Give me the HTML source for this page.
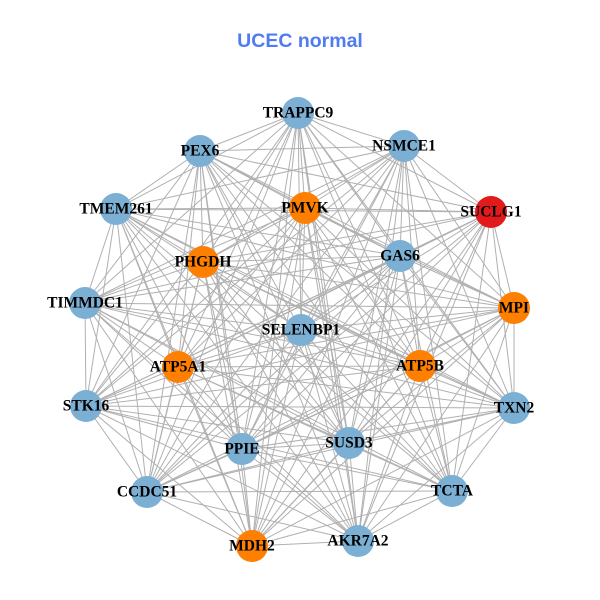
<!DOCTYPE html>
<html><head><meta charset="utf-8"><style>
html,body{margin:0;padding:0;background:#fff;width:600px;height:600px;overflow:hidden}
svg text{font-family:"Liberation Serif",serif;font-weight:bold;font-size:15.5px;text-anchor:middle;dominant-baseline:central;fill:#000}
</style></head><body>
<svg id="s" width="600" height="600" xmlns="http://www.w3.org/2000/svg">
<text x="300" y="41" style="font-family:'Liberation Sans',sans-serif;font-size:19.5px;fill:#4f7cf0">UCEC normal</text>
<g id="e" stroke="#b0b0b0" stroke-width="1"></g>
<g id="n"></g>
</svg>
<script>
var B="#7bafd4",O="#ff7f00",R="#e31a1c";
var N=[["TRAPPC9",298,113,B],["NSMCE1",404,146,B],["PEX6",200,151,B],["PMVK",305,208,O],["SUCLG1",491,212,R],["TMEM261",116,209,B],["GAS6",400,256,B],["PHGDH",203,262,O],["TIMMDC1",85,303,B],["MPI",514,308,O],["SELENBP1",301,330,B],["ATP5A1",178,367,O],["ATP5B",420,366,O],["STK16",86,406,B],["TXN2",514,408,B],["PPIE",242,449,B],["SUSD3",349,443,B],["CCDC51",147,492,B],["TCTA",452,491,B],["MDH2",252,546,O],["AKR7A2",358,541,B]];
var ns="http://www.w3.org/2000/svg",e=document.getElementById("e"),g=document.getElementById("n");
for(var i=0;i<N.length;i++)for(var j=i+1;j<N.length;j++){var l=document.createElementNS(ns,"line");l.setAttribute("x1",N[i][1]);l.setAttribute("y1",N[i][2]);l.setAttribute("x2",N[j][1]);l.setAttribute("y2",N[j][2]);e.appendChild(l);}
N.forEach(function(d){var c=document.createElementNS(ns,"circle");c.setAttribute("cx",d[1]);c.setAttribute("cy",d[2]);c.setAttribute("r",16);c.setAttribute("fill",d[3]);g.appendChild(c);});
N.forEach(function(d){var t=document.createElementNS(ns,"text");t.setAttribute("x",d[1]);t.setAttribute("y",d[2]);t.textContent=d[0];g.appendChild(t);});
</script>
</body></html>
